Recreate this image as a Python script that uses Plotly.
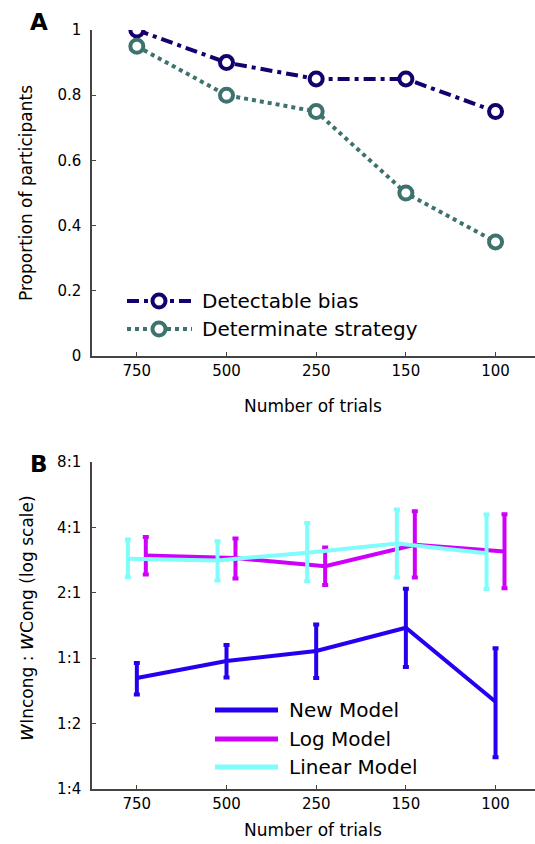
import plotly.graph_objects as go

# ---- data -------------------------------------------------------------
trial_labels = ["750", "500", "250", "150", "100"]

# Panel A: proportion of participants
detectable_bias = [1.00, 0.90, 0.85, 0.85, 0.75]
determinate_strategy = [0.95, 0.80, 0.75, 0.50, 0.35]

# Panel B: wIncong : wCong ratio (mean, upper and lower error limits)
new_mean = [0.81, 0.97, 1.08, 1.38, 0.63]
new_upper = [0.95, 1.15, 1.43, 2.09, 1.11]
new_lower = [0.68, 0.815, 0.81, 0.91, 0.35]

log_mean = [2.97, 2.89, 2.65, 3.33, 3.10]
log_upper = [3.61, 3.56, 3.23, 4.75, 4.60]
log_lower = [2.43, 2.33, 2.17, 2.35, 2.10]

lin_mean = [2.87, 2.82, 3.06, 3.37, 3.04]
lin_upper = [3.52, 3.45, 4.19, 4.83, 4.59]
lin_lower = [2.36, 2.28, 2.26, 2.35, 2.08]

ratio_ticks = [0.25, 0.5, 1, 2, 4, 8]
ratio_labels = ["1:4", "1:2", "1:1", "2:1", "4:1", "8:1"]

# ---- layout geometry (pixels) ----------------------------------------
W, H = 535, 844
ML, MR, MT, MB = 92, 0, 30, 55
PW, PH = W - ML - MR, H - MT - MB


def px(x):
    return (x - ML) / PW


def py(y):
    return 1 - (y - MT) / PH


FONT = "DejaVu Sans"
NAVY = "#15006e"
TEAL = "#3e726f"
BLUE = "#2400f0"
MAGENTA = "#cf00fa"
CYAN = "#80fcfc"
AXIS = "#444444"

idx = list(range(len(trial_labels)))

fig = go.Figure()

# ---- panel A ----------------------------------------------------------
fig.add_trace(go.Scatter(
    x=idx, y=detectable_bias, mode="lines+markers", xaxis="x", yaxis="y",
    line=dict(color=NAVY, width=4, dash="12px,5px,4px,5px"),
    marker=dict(symbol="circle", size=13, color="white",
                line=dict(color=NAVY, width=4)),
    showlegend=False))
fig.add_trace(go.Scatter(
    x=idx, y=determinate_strategy, mode="lines+markers", xaxis="x", yaxis="y",
    line=dict(color=TEAL, width=4, dash="4px,4px"),
    marker=dict(symbol="circle", size=13, color="white",
                line=dict(color=TEAL, width=4)),
    showlegend=False))


# ---- panel B ----------------------------------------------------------
def err_trace(mean, upper, lower, color, shift):
    return go.Scatter(
        x=[i + shift for i in idx], y=mean, mode="lines",
        xaxis="x2", yaxis="y2",
        line=dict(color=color, width=4),
        error_y=dict(type="data", symmetric=False,
                     array=[u - m for u, m in zip(upper, mean)],
                     arrayminus=[m - l for m, l in zip(mean, lower)],
                     color=color, thickness=4, width=3),
        showlegend=False)


fig.add_trace(err_trace(log_mean, log_upper, log_lower, MAGENTA, 0.1))
fig.add_trace(err_trace(lin_mean, lin_upper, lin_lower, CYAN, -0.1))
fig.add_trace(err_trace(new_mean, new_upper, new_lower, BLUE, 0.0))

# ---- axes -------------------------------------------------------------
common_x = dict(
    tickmode="array", tickvals=idx, ticktext=trial_labels,
    range=[-0.5, 4.44], showline=True, linecolor=AXIS, linewidth=1.5,
    ticks="inside", ticklen=4, tickcolor=AXIS, showgrid=False, zeroline=False,
    tickfont=dict(family=FONT, size=15, color="black"),
)
common_y = dict(
    showline=True, linecolor=AXIS, linewidth=1.5, ticks="inside", ticklen=4,
    tickcolor=AXIS, showgrid=False, zeroline=False, ticklabelstandoff=6,
    tickfont=dict(family=FONT, size=15, color="black"),
)

a_bottom = py(356)
b_top = py(462)

fig.update_layout(
    width=W, height=H,
    margin=dict(l=ML, r=MR, t=MT, b=MB),
    paper_bgcolor="white", plot_bgcolor="white",
    font=dict(family=FONT, color="black"),
    xaxis=dict(domain=[0, 1], anchor="y", **common_x),
    yaxis=dict(domain=[a_bottom, 1], anchor="x", range=[0, 1],
               tickvals=[0, 0.2, 0.4, 0.6, 0.8, 1],
               ticktext=["0", "0.2", "0.4", "0.6", "0.8", "1"], **common_y),
    xaxis2=dict(domain=[0, 1], anchor="y2", **common_x),
    yaxis2=dict(domain=[0, b_top], anchor="x2", type="log",
                range=[-0.60206, 0.90309], tickvals=ratio_ticks,
                ticktext=ratio_labels, **common_y),
    showlegend=False,
)

# ---- titles, panel letters -------------------------------------------
ann = []


def text(x, y, s, size, xanchor="center", yanchor="middle", **kw):
    ann.append(dict(x=px(x), y=py(y), xref="paper", yref="paper", text=s,
                    showarrow=False, xanchor=xanchor, yanchor=yanchor,
                    font=dict(family=FONT, size=size, color="black"), **kw))


text(39, 22, "<b>A</b>", 23)
text(39, 464, "<b>B</b>", 23)
text(313, 406, "Number of trials", 17)
text(313, 830, "Number of trials", 17)
text(26, 193, "Proportion of participants", 17, textangle=-90)
text(26, 618,
     "<span style='font-size:21px'><i>w</i></span>Incong : "
     "<span style='font-size:21px'><i>w</i></span>Cong (log scale)",
     17, textangle=-90)

# ---- legend, panel A --------------------------------------------------
shapes = []
legend_a = [("Detectable bias", NAVY, "12px,5px,4px,5px", 301),
            ("Determinate strategy", TEAL, "4px,4px", 329)]
for label, col, dash, yy in legend_a:
    shapes.append(dict(type="line", xref="paper", yref="paper",
                       x0=px(127), x1=px(192), y0=py(yy), y1=py(yy),
                       line=dict(color=col, width=4, dash=dash)))
    shapes.append(dict(type="circle", xref="paper", yref="paper",
                       x0=px(159 - 6.5), x1=px(159 + 6.5),
                       y0=py(yy + 6.5), y1=py(yy - 6.5),
                       fillcolor="white", line=dict(color=col, width=4)))
    text(200, yy, label, 20, xanchor="left")

# ---- legend, panel B --------------------------------------------------
legend_b = [("New Model", BLUE, 710), ("Log Model", MAGENTA, 739),
            ("Linear Model", CYAN, 767)]
for label, col, yy in legend_b:
    shapes.append(dict(type="line", xref="paper", yref="paper",
                       x0=px(215), x1=px(278), y0=py(yy), y1=py(yy),
                       line=dict(color=col, width=5)))
    text(287, yy, label, 20, xanchor="left")

fig.update_layout(annotations=ann, shapes=shapes)

fig.write_html("out.html")
